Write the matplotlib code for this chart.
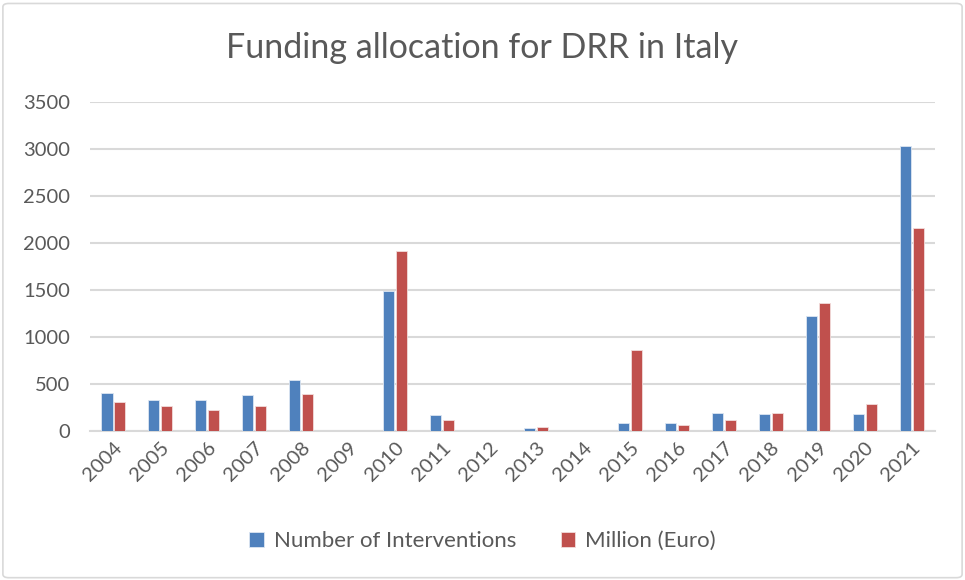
import numpy as np
import matplotlib.pyplot as plt
from matplotlib.patches import FancyBboxPatch

plt.rcParams['font.family'] = ['Lato', 'DejaVu Sans']

years = ['2004', '2005', '2006', '2007', '2008', '2009', '2010', '2011', '2012',
         '2013', '2014', '2015', '2016', '2017', '2018', '2019', '2020', '2021']
interventions = [405, 330, 325, 380, 545, 0, 1490, 165, 0,
                 30, 0, 85, 85, 195, 178, 1225, 182, 3030]
million_euro = [308, 268, 220, 262, 395, 0, 1910, 112, 0,
                38, 0, 860, 68, 118, 186, 1362, 287, 2162]

blue = '#4F81BD'
red = '#C0504D'
grid_col = '#D9D9D9'
text_col = '#595959'

fig = plt.figure(figsize=(9.65, 5.8), dpi=100)
ax = fig.add_axes([0.093, 0.257, 0.876, 0.567])

x = np.arange(len(years))
w = 0.235
ax.bar(x - w / 2 - 0.015, interventions, w, color=blue, edgecolor='#DCE6F2',
       linewidth=0.6, label='Number of Interventions', zorder=3)
ax.bar(x + w / 2 + 0.025, million_euro, w, color=red, edgecolor='#F2DCDB',
       linewidth=0.6, label='Million (Euro)', zorder=3)

ax.set_xlim(-0.5, len(years) - 0.5)
ax.set_ylim(0, 3500)
ax.set_yticks(np.arange(0, 3501, 500))
ax.yaxis.grid(True, color=grid_col, linewidth=1.5, zorder=0)
ax.set_axisbelow(True)
for s in ['top', 'right', 'left']:
    ax.spines[s].set_visible(False)
ax.spines['bottom'].set_color(grid_col)
ax.spines['bottom'].set_linewidth(1.5)
ax.tick_params(axis='both', length=0, labelsize=14.5, colors=text_col, pad=6)
ax.tick_params(axis='y', pad=14)

ax.set_xticks(x)
ax.set_xticklabels(years, rotation=45, ha='right', rotation_mode='anchor')

fig.text(0.5, 0.917, 'Funding allocation for DRR in Italy', ha='center', va='center',
         fontsize=24.5, color=text_col)

fig.legend(loc='center', bbox_to_anchor=(0.5, 0.067), ncol=2, frameon=False,
           fontsize=16, labelcolor=text_col, handlelength=0.65, handleheight=0.65,
           handletextpad=0.45, columnspacing=2.0)

border = FancyBboxPatch((0.003, 0.004), 0.994, 0.99, boxstyle='round,pad=0,rounding_size=0.006',
                        transform=fig.transFigure, facecolor='none', edgecolor='#D9D9D9',
                        linewidth=1.2)
fig.patches.append(border)

fig.savefig('out.png', dpi=100)
